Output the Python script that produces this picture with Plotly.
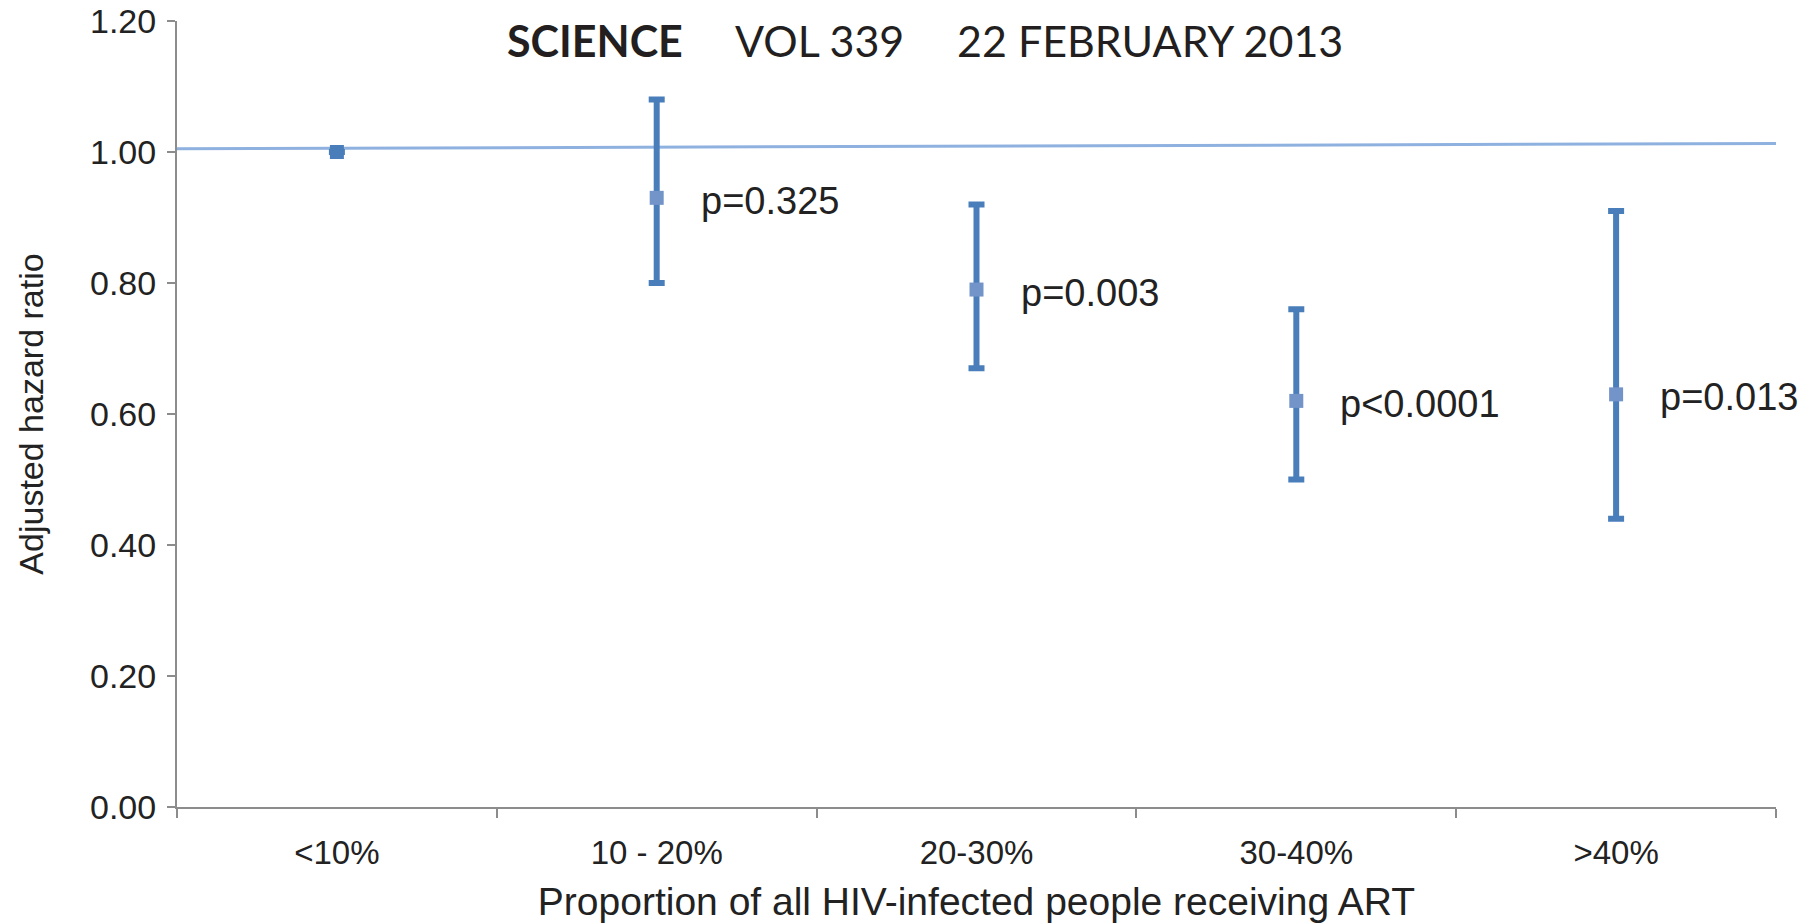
import plotly.graph_objects as go

categories = ["<10%", "10 - 20%", "20-30%", "30-40%", ">40%"]
hazard_ratio = [1.00, 0.93, 0.79, 0.62, 0.63]
ci_upper = [None, 1.08, 0.92, 0.76, 0.91]
ci_lower = [None, 0.80, 0.67, 0.50, 0.44]
p_labels = [None, "p=0.325", "p=0.003", "p<0.0001", "p=0.013"]
marker_colors = ["#4a7ebb", "#7394c9", "#7394c9", "#7394c9", "#7394c9"]
reference_line_y = [1.005, 1.013]  # reference line at HR = 1 (start, end)
y_ticks = [0.0, 0.2, 0.4, 0.6, 0.8, 1.0, 1.2]

err_plus = [None if u is None else u - v for u, v in zip(ci_upper, hazard_ratio)]
err_minus = [None if l is None else v - l for l, v in zip(ci_lower, hazard_ratio)]

FONT = "Liberation Sans, Arial, sans-serif"
TXT = "#222222"
AXIS = "#8c8c8c"

fig = go.Figure()

fig.add_shape(type="line", xref="x domain", yref="y", x0=0, x1=1,
              y0=reference_line_y[0], y1=reference_line_y[1],
              line=dict(color="#8fb1e0", width=3), layer="below")

fig.add_trace(go.Scatter(
    x=categories, y=hazard_ratio, mode="markers",
    marker=dict(symbol="square", size=14, color=marker_colors, line=dict(width=0)),
    error_y=dict(type="data", symmetric=False, array=err_plus, arrayminus=err_minus,
                 color="#4a7ebb", thickness=6, width=8),
    showlegend=False, cliponaxis=False,
))

for c, v, t in zip(categories, hazard_ratio, p_labels):
    if t:
        fig.add_annotation(x=c, y=v, text=t, showarrow=False, xanchor="left",
                           yanchor="middle", xshift=42, yshift=-3,
                           font=dict(family=FONT, size=38, color=TXT))

# Journal header overlay
header = [("SCIENCE", 0.2051, "bold"), ("VOL 339", 0.3477, "normal"),
          ("22 FEBRUARY 2013", 0.4866, "normal")]
for txt, xp, w in header:
    fig.add_annotation(xref="paper", yref="paper", x=xp, y=0.9746, text=txt,
                       showarrow=False, xanchor="left", yanchor="middle",
                       font=dict(family="Lato, sans-serif", size=43, color="#231f20",
                                 weight=w))

fig.update_layout(
    width=1812, height=924,
    margin=dict(l=177, r=36, t=21, b=117, autoexpand=False),
    paper_bgcolor="white", plot_bgcolor="white",
    xaxis=dict(
        type="category", range=[-0.5, 4.5], tickson="boundaries",
        showline=True, linecolor=AXIS, linewidth=2,
        ticks="outside", ticklen=9, tickwidth=2, tickcolor=AXIS,
        showgrid=False, zeroline=False,
        tickfont=dict(family=FONT, size=33, color=TXT), ticklabelstandoff=15,
        title=dict(text="Proportion of all HIV-infected people receiving ART",
                   font=dict(family=FONT, size=39, color=TXT), standoff=18),
        automargin=False,
    ),
    yaxis=dict(
        range=[0, 1.2], tickvals=y_ticks, tickformat=".2f",
        showline=True, linecolor=AXIS, linewidth=2,
        ticks="outside", ticklen=8, tickwidth=2, tickcolor=AXIS,
        showgrid=False, zeroline=False,
        tickfont=dict(family=FONT, size=34, color=TXT), ticklabelstandoff=4,
        title=dict(text="Adjusted hazard ratio",
                   font=dict(family=FONT, size=34, color=TXT), standoff=36),
        automargin=False,
    ),
)

fig.write_html("out.html")
